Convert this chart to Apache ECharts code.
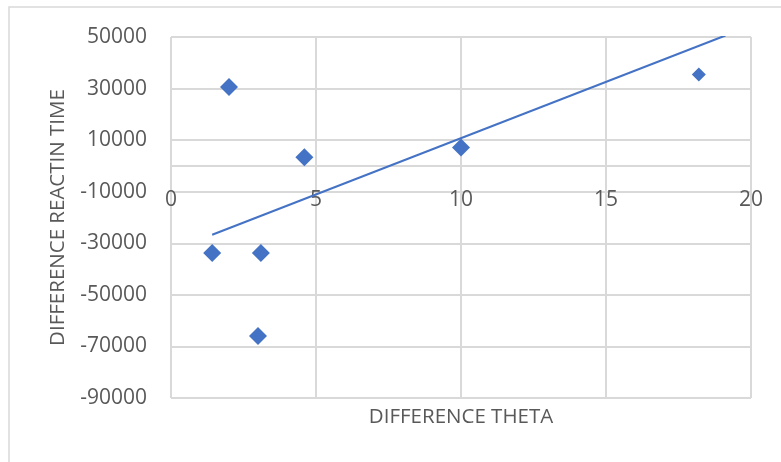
<!DOCTYPE html>
<html><head><meta charset="utf-8">
<script src="https://cdn.jsdelivr.net/npm/echarts@6/dist/echarts.min.js"></script>
<style>html,body{margin:0;padding:0;background:#fff}#c{width:781px;height:462px}</style>
</head><body><div id="c"></div>
<script>
// Data
const thetaDiff = [2.0, 4.6, 10.0, 18.2, 1.42, 3.1, 3.0];
const reactionDiff = [30600, 3400, 7100, 35500, -33800, -33800, -66000];
const markerSizes = [18, 18, 18, 14, 18, 18, 18];
const trendX = [1.42, 19.12];
const trendY = [-26700, 50600];
const xTicks = [0, 5, 10, 15, 20];
const yTicks = [50000, 30000, 10000, -10000, -30000, -50000, -70000, -90000];

const yMin = Math.min(...yTicks), yMax = Math.max(...yTicks);
const yStep = yTicks[0] - yTicks[1];
const xMin = Math.min(...xTicks), xMax = Math.max(...xTicks), xStep = xTicks[1] - xTicks[0];

const FONT = '"Open Sans", "Liberation Sans", sans-serif';
const TXT = '#595959', GRID = '#d9d9d9';

const chart = echarts.init(document.getElementById('c'), null, {renderer: 'canvas'});
chart.setOption({
  animation: false,
  graphic: [{type: 'rect', shape: {x: 9, y: 7, width: 900, height: 600},
    style: {fill: 'none', stroke: GRID, lineWidth: 1.5}, silent: true, z: -10}],
  grid: {left: 171, right: 30, top: 37, bottom: 64, containLabel: false},
  xAxis: {
    type: 'value', min: xMin, max: xMax, interval: xStep,
    name: 'DIFFERENCE THETA', nameLocation: 'middle', nameGap: 19,
    nameTextStyle: {color: TXT, fontSize: 20.5, fontFamily: FONT, padding: [0, 0, 0, 0], verticalAlign: 'middle'},
    axisLine: {show: true, onZero: true, onZeroAxisIndex: 0, lineStyle: {color: GRID, width: 2}},
    axisTick: {show: false},
    axisLabel: {color: TXT, fontSize: 21, fontFamily: FONT, margin: -208},
    splitLine: {show: true, lineStyle: {color: GRID, width: 2}}
  },
  yAxis: [{
    type: 'value', min: yMin, max: yMax, show: true,
    axisLine: {show: false}, axisTick: {show: false}, axisLabel: {show: false}, splitLine: {show: false}
  }, {
    type: 'value', min: 0, max: yMax - yMin, interval: yStep, position: 'left',
    name: 'DIFFERENCE REACTIN TIME', nameLocation: 'middle', nameGap: 102, nameRotate: 90,
    nameTextStyle: {color: TXT, fontSize: 20.5, fontFamily: FONT},
    axisLine: {show: false}, axisTick: {show: false},
    axisLabel: {color: TXT, fontSize: 21, fontFamily: FONT, margin: 24,
      formatter: v => String(v + yMin)},
    splitLine: {show: true, lineStyle: {color: GRID, width: 2}}
  }],
  series: [{
    type: 'line', data: trendX.map((x, i) => [x, trendY[i]]), yAxisIndex: 0,
    showSymbol: false, symbol: 'none', lineStyle: {color: '#4472C4', width: 2}, z: 3, clip: true
  }, {
    type: 'scatter', yAxisIndex: 0, symbol: 'diamond',
    data: thetaDiff.map((x, i) => ({value: [x, reactionDiff[i]], symbolSize: markerSizes[i]})),
    itemStyle: {color: '#4472C4', opacity: 1}, z: 4
  }]
});
</script></body></html>
